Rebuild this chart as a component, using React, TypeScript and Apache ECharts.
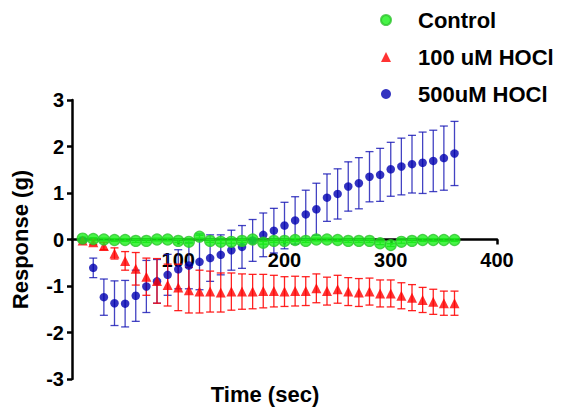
import React, { useEffect, useRef } from 'react';
import * as echarts from 'echarts';

const times = [10, 20, 30, 40, 50, 60, 70, 80, 90, 100, 110, 120, 130, 140, 150, 160, 170, 180, 190, 200, 210, 220, 230, 240, 250, 260, 270, 280, 290, 300, 310, 320, 330, 340, 350, 360];

const controlMean = [0.02, 0.01, 0.0, -0.01, -0.01, -0.03, -0.03, 0.0, 0.0, -0.03, -0.05, 0.06, -0.03, -0.05, -0.05, -0.03, 0.0, -0.07, -0.03, -0.03, -0.01, -0.03, 0.0, 0.0, -0.01, -0.03, -0.03, -0.03, -0.08, -0.12, -0.05, -0.03, -0.01, -0.01, -0.01, -0.01];
const controlErr = [0.03, 0.03, 0.03, 0.03, 0.03, 0.03, 0.03, 0.03, 0.03, 0.03, 0.03, 0.03, 0.03, 0.03, 0.03, 0.03, 0.03, 0.03, 0.03, 0.03, 0.03, 0.03, 0.03, 0.03, 0.03, 0.03, 0.03, 0.03, 0.03, 0.03, 0.03, 0.03, 0.03, 0.03, 0.03, 0.03];

const hocl100Mean = [-0.02, -0.06, -0.14, -0.3, -0.46, -0.63, -0.8, -0.89, -0.98, -1.03, -1.09, -1.12, -1.12, -1.14, -1.12, -1.12, -1.12, -1.11, -1.11, -1.12, -1.11, -1.11, -1.05, -1.11, -1.07, -1.12, -1.14, -1.12, -1.16, -1.16, -1.21, -1.25, -1.3, -1.34, -1.37, -1.37];
const hocl100Err = [0.03, 0.05, 0.08, 0.12, 0.2, 0.35, 0.4, 0.48, 0.45, 0.5, 0.49, 0.46, 0.44, 0.42, 0.4, 0.38, 0.37, 0.36, 0.34, 0.32, 0.32, 0.31, 0.31, 0.3, 0.3, 0.3, 0.3, 0.29, 0.29, 0.29, 0.28, 0.28, 0.27, 0.27, 0.26, 0.26];

const hocl500Mean = [-0.02, -0.61, -1.24, -1.37, -1.38, -1.21, -1.01, -0.9, -0.76, -0.64, -0.56, -0.48, -0.4, -0.33, -0.23, -0.16, -0.02, 0.1, 0.19, 0.3, 0.41, 0.54, 0.65, 0.9, 0.98, 1.14, 1.21, 1.35, 1.39, 1.51, 1.57, 1.62, 1.65, 1.69, 1.75, 1.85];
const hocl500Err = [0.02, 0.21, 0.39, 0.48, 0.5, 0.55, 0.56, 0.47, 0.44, 0.42, 0.5, 0.6, 0.5, 0.43, 0.43, 0.46, 0.45, 0.47, 0.48, 0.5, 0.51, 0.52, 0.56, 0.51, 0.54, 0.53, 0.55, 0.54, 0.57, 0.58, 0.61, 0.62, 0.66, 0.66, 0.69, 0.69];

const seriesNames = ['Control', '100 uM HOCl', '500uM HOCl'];
const xAxisTitle = 'Time (sec)';
const yAxisTitle = 'Response (g)';

const FONT = '"Liberation Sans", Arial, Helvetica, sans-serif';

function points(mean: number[]) {
  return times.map((t, i) => [t, mean[i]]);
}
function ranges(mean: number[], err: number[]) {
  return times.map((t, i) => [t, mean[i] - err[i], mean[i] + err[i]]);
}

function errRender(color: string, opacity: number) {
  return (params: any, api: any) => {
    const x = api.value(0);
    const lo = api.value(1);
    const hi = api.value(2);
    const p1 = api.coord([x, hi]);
    const p2 = api.coord([x, lo]);
    const w = 4;
    const style = { stroke: color, lineWidth: 1.3, opacity };
    return {
      type: 'group',
      children: [
        { type: 'line', shape: { x1: p1[0], y1: p1[1], x2: p2[0], y2: p2[1] }, style },
        { type: 'line', shape: { x1: p1[0] - w, y1: p1[1], x2: p1[0] + w, y2: p1[1] }, style },
        { type: 'line', shape: { x1: p2[0] - w, y1: p2[1], x2: p2[0] + w, y2: p2[1] }, style },
      ],
    };
  };
}

export default function App() {
  const ref = useRef<HTMLDivElement>(null);
  useEffect(() => {
    if (!ref.current) return;
    const chart = echarts.init(ref.current, undefined, { renderer: 'svg' });
    const option: any = {
      animation: false,
      backgroundColor: '#ffffff',
      grid: { left: 72, right: 66, top: 100, bottom: 31, containLabel: false },
      legend: {
        orient: 'vertical',
        left: 375,
        top: 4,
        itemWidth: 10,
        itemHeight: 10,
        itemGap: 15,
        data: seriesNames,
        textStyle: {
          fontFamily: FONT,
          fontWeight: 'bold',
          fontSize: 22,
          lineHeight: 22,
          color: '#000',
          padding: [0, 0, 0, 22],
        },
      },
      xAxis: {
        type: 'value',
        min: 0,
        max: 400,
        interval: 100,
        position: 'bottom',
        offset: -139.5,
        axisLine: { show: true, onZero: false, lineStyle: { color: '#000', width: 2.5 } },
        axisTick: { show: true, length: 5, lineStyle: { color: '#000', width: 2.5 } },
        axisLabel: {
          showMinLabel: false,
          fontFamily: FONT,
          fontWeight: 'bold',
          fontSize: 20,
          color: '#000',
          margin: 10,
        },
        splitLine: { show: false },
      },
      yAxis: {
        type: 'value',
        min: -3,
        max: 3,
        interval: 1,
        name: yAxisTitle,
        nameLocation: 'middle',
        nameGap: 41,
        nameTextStyle: { fontFamily: FONT, fontWeight: 'bold', fontSize: 22, color: '#000' },
        axisLine: { show: true, onZero: false, lineStyle: { color: '#000', width: 2.5 } },
        axisTick: { show: true, length: 5, lineStyle: { color: '#000', width: 2.5 } },
        axisLabel: { fontFamily: FONT, fontWeight: 'bold', fontSize: 20, color: '#000', margin: 8 },
        splitLine: { show: false },
      },
      graphic: [
        {
          type: 'text',
          x: 265,
          y: 394,
          style: {
            text: xAxisTitle,
            font: `bold 22px ${FONT}`,
            fill: '#000',
            textAlign: 'center',
            textVerticalAlign: 'middle',
          },
        },
      ],
      series: [
        {
          name: seriesNames[2] + ' err',
          type: 'custom',
          renderItem: errRender('#1414b4', 0.8),
          encode: { x: 0, y: [1, 2] },
          data: ranges(hocl500Mean, hocl500Err),
          silent: true,
        },
        {
          name: seriesNames[2],
          type: 'scatter',
          symbol: 'circle',
          symbolSize: 8.5,
          itemStyle: { color: '#0000b0' },
          data: points(hocl500Mean),
        },
        {
          name: seriesNames[1] + ' err',
          type: 'custom',
          renderItem: errRender('#ff0a0a', 0.9),
          encode: { x: 0, y: [1, 2] },
          data: ranges(hocl100Mean, hocl100Err),
          silent: true,
        },
        {
          name: seriesNames[1],
          type: 'scatter',
          symbol: 'triangle',
          symbolSize: 10,
          itemStyle: { color: '#ff0000' },
          data: points(hocl100Mean),
        },
        {
          name: seriesNames[0] + ' err',
          type: 'custom',
          renderItem: errRender('#22cc22', 1),
          encode: { x: 0, y: [1, 2] },
          data: ranges(controlMean, controlErr),
          silent: true,
        },
        {
          name: seriesNames[0],
          type: 'scatter',
          symbol: 'circle',
          symbolSize: 11,
          itemStyle: { color: '#19f019', borderColor: '#2ec42e', borderWidth: 1.2 },
          data: points(controlMean),
        },
      ],
    };
    chart.setOption(option);
    return () => {
      chart.dispose();
    };
  }, []);
  return (
    <div
      ref={ref}
      style={{ position: 'fixed', left: 0, top: 0, width: 563, height: 410, background: '#fff' }}
    />
  );
}
